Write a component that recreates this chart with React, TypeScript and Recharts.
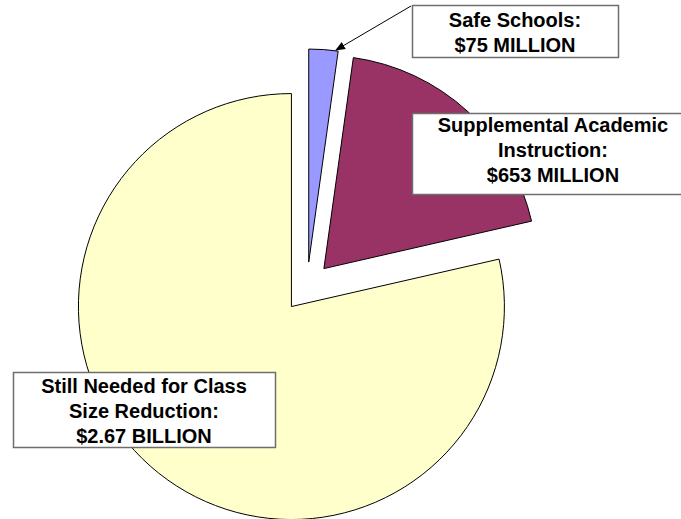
import React from "react";
import { PieChart, Pie, Cell } from "recharts";

// Funding components, in millions of dollars
const categories = ["Safe Schools", "Supplemental Academic Instruction", "Still Needed for Class Size Reduction"];
const amounts = [75, 653, 2670];
const colors = ["#9999FF", "#993366", "#FFFFCC"];
const labelLines = [
  ["Safe Schools:", "$75 MILLION"],
  ["Supplemental Academic", "Instruction:", "$653 MILLION"],
  ["Still Needed for Class", "Size Reduction:", "$2.67 BILLION"],
];

const W = 681;
const H = 519;
const CX = 307;
const CY = 287;
const RADIUS = 213;
const EXPLODE = 25;
const START = 90;
const END = -270;

const data = categories.map((name, i) => ({ name, value: amounts[i] }));
const total = amounts.reduce((a, b) => a + b, 0);

// Each slice is pushed outward along its own bisector
const offsets = amounts.map((v, i) => {
  const before = amounts.slice(0, i).reduce((a, b) => a + b, 0);
  const mid = START + (END - START) * ((before + v / 2) / total);
  const rad = (mid * Math.PI) / 180;
  return { dx: EXPLODE * Math.cos(rad), dy: -EXPLODE * Math.sin(rad) };
});

// Callout boxes: x, y, width, height, center of text, first baseline
const boxes = [
  { x: 412, y: 5, w: 206, h: 52, tx: 515, ty: 27 },
  { x: 412, y: 113, w: 285, h: 81, tx: 553, ty: 132 },
  { x: 13, y: 372, w: 262, h: 75, tx: 144, ty: 393 },
];

const FONT = "'Liberation Sans', Arial, sans-serif";

export default function App() {
  return (
    <div style={{ position: "absolute", left: 0, top: 0, width: W, height: H, background: "#fff", overflow: "hidden" }}>
      <PieChart width={W} height={H} margin={{ top: 0, right: 0, bottom: 0, left: 0 }}>
        {data.map((_, k) => (
          <Pie
            key={categories[k]}
            data={data}
            dataKey="value"
            nameKey="name"
            cx={CX + offsets[k].dx}
            cy={CY + offsets[k].dy}
            outerRadius={RADIUS}
            innerRadius={0}
            startAngle={START}
            endAngle={END}
            isAnimationActive={false}
            labelLine={false}
          >
            {data.map((d, i) =>
              i === k ? (
                <Cell key={d.name} fill={colors[i]} stroke="#000" strokeWidth={1} />
              ) : (
                <Cell key={d.name} fill="none" stroke="none" />
              )
            )}
          </Pie>
        ))}
      </PieChart>
      <svg
        width={W}
        height={H}
        style={{ position: "absolute", left: 0, top: 0, pointerEvents: "none" }}
      >
        <defs>
          <marker id="arrowHead" markerWidth="10" markerHeight="8" refX="9" refY="4" orient="auto" markerUnits="userSpaceOnUse">
            <path d="M0,0 L10,4 L0,8 Z" fill="#000" />
          </marker>
        </defs>
        <line x1={411} y1={6} x2={336} y2={50} stroke="#000" strokeWidth={1} markerEnd="url(#arrowHead)" />
        {boxes.map((b, i) => (
          <g key={categories[i]}>
            <rect x={b.x + 0.5} y={b.y + 0.5} width={b.w} height={b.h} fill="#fff" stroke="#6e6e6e" strokeWidth={1.5} />
            {labelLines[i].map((line, j) => (
              <text
                key={line}
                x={b.tx}
                y={b.ty + j * 25}
                textAnchor="middle"
                fontFamily={FONT}
                fontWeight="bold"
                fontSize={20}
                fill="#000"
              >
                {line}
              </text>
            ))}
          </g>
        ))}
      </svg>
    </div>
  );
}
